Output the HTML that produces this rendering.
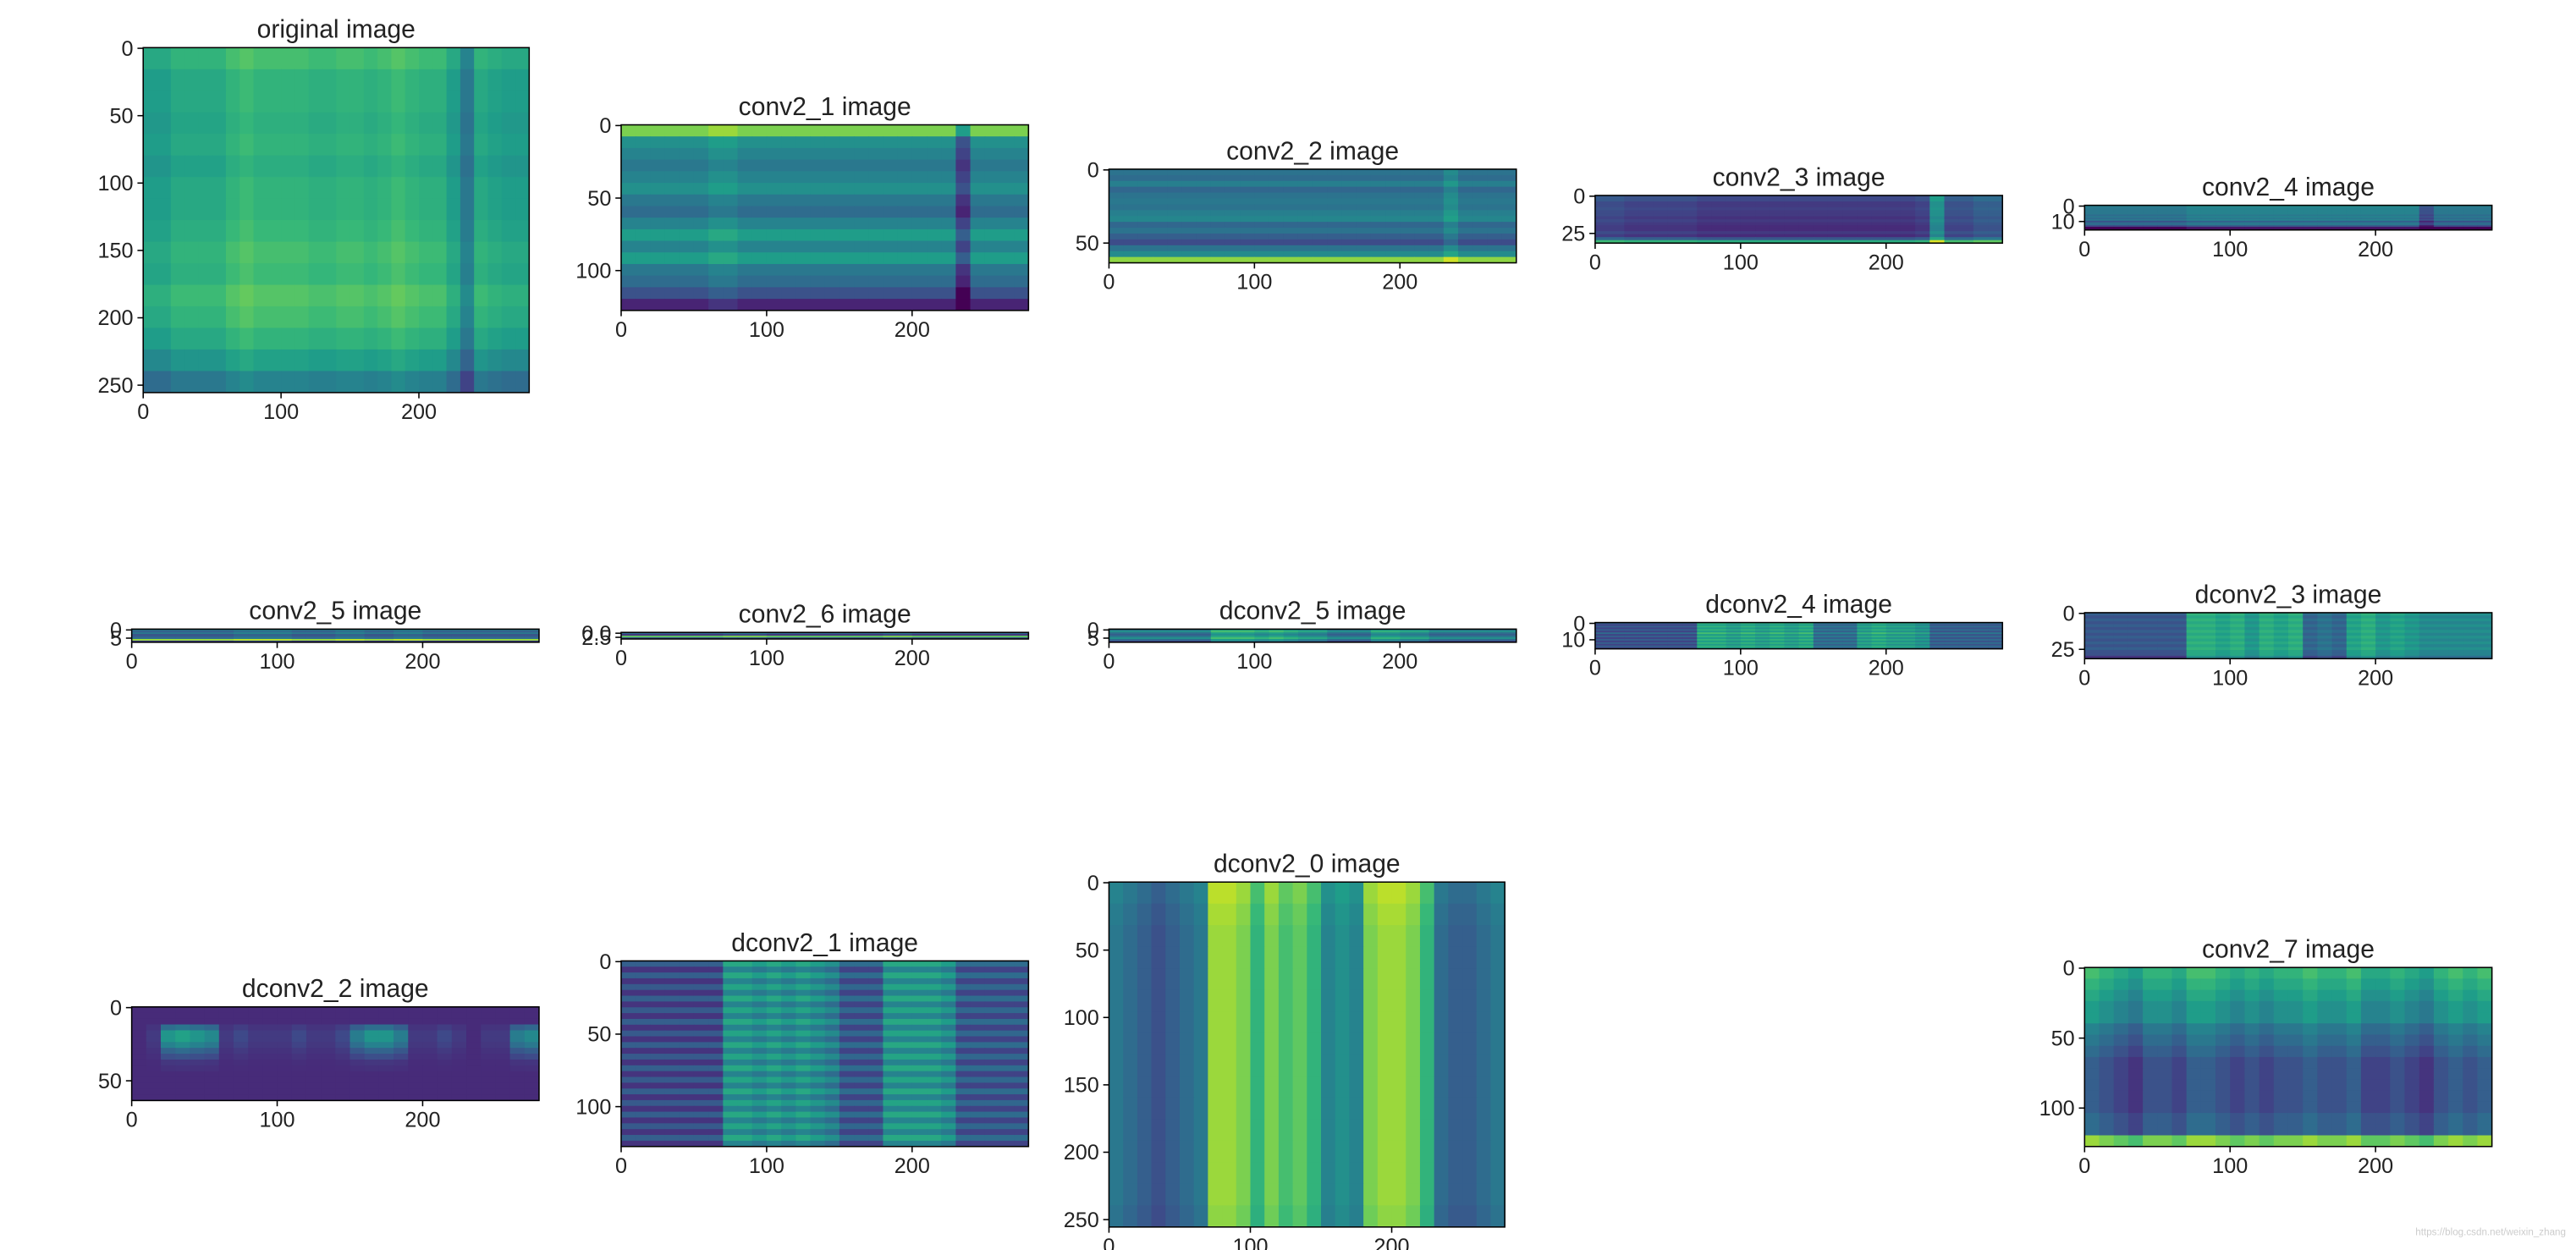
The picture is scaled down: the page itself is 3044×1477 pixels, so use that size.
<!DOCTYPE html>
<html><head><meta charset="utf-8"><style>
html,body{margin:0;padding:0;background:#fff;}
svg{display:block;}
text{font-family:"Liberation Sans","DejaVu Sans",sans-serif;fill:#222;}
</style></head>
<body>
<svg id="fig" width="3044" height="1477" viewBox="0 0 1568 761" xmlns="http://www.w3.org/2000/svg"></svg>
<script>
// ---- data arrays (row / column intensity profiles, 0..1 colormap units) ----
const xTicks = [0, 100, 200];
const origRows = [0.05,0,0,-0.02,0,-0.03,0,0,0.02,0.05,0.03,0.08,0.05,0,-0.08,-0.2];
const origCols = [-0.05,-0.05,0,0,0,0,0.05,0.08,0.05,0.05,0.05,0.05,0.03,0.03,0.05,0.05,0.03,0.05,0.08,0.05,0.03,0.03,-0.05,-0.2,0,-0.03,-0.05,-0.05];
const c1Rows = [0.35,0.05,0,-0.05,0,0.05,-0.05,-0.1,0,0.1,0,0.1,-0.05,-0.1,-0.2,-0.35];
const c1Cols = [0,0,0,0,0,0,0.05,0.05,0,0,0,0,0,0,0,0,0,0,0,0,0,0,0,-0.25,0,0,0,0];
const c2Rows = [0,-0.03,0.05,-0.05,0,0.02,0,0.05,0.08,-0.05,0,-0.08,-0.15,0,0.1,0.45];
const c2Cols = [0,0,0,0,0,0,0,0,0,0,0,0,0,0,0,0,0,0,0,0,0,0,0,0.1,0,0,0,0];
const c3Rows = [0.05,0.05,0,0,0.02,0,0,-0.03,0,-0.03,-0.05,-0.05,0,-0.05,0.1,0.45];
const c3Cols = [0.03,0.03,0,0,0,0,0,-0.03,-0.03,-0.03,-0.03,-0.03,-0.03,-0.03,-0.03,-0.03,-0.03,-0.03,-0.03,-0.03,-0.03,-0.03,0,0.3,0.05,0.05,0.1,0.1];
const c4Rows = [0.1,0.05,0.05,0.05,0.05,0.05,0,0.05,0,0.05,-0.1,0,0,-0.15,-0.35,-0.35];
const c4Cols = [0,0,0,0,0,0,0,0.05,0.05,0.05,0.05,0.05,0.05,0.05,0.05,0.05,0.05,0.05,0.05,0.05,0.05,0.05,0.05,-0.15,0,0,0,0];
const c5Rows = [0.1,0,0.1,-0.05,0,0.05,0.55,-0.1];
const c5Cols = [0,0,0,0,0,0,0,0.05,0.05,0.05,0.05,0,0,0,0.05,0.05,0,0,0.05,0.05,0,0,0,0,0,0,0,0];
const c6Rows = [0.1,-0.1,0.5,0];
const c6Cols = [0,0,0,0,0,0,0,0.05,0.05,0.05,0,0,0,0,0,0,0,0,0.05,0.05,0,0,0,0,0,0,0,0];
const d5Rows = [0.1,0.2,0.05,0,0.1,0.2,0.05,-0.1];
const d5Cols = [0,0,0,0,0,0,0,0.2,0.2,0.2,0.15,0.2,0.15,0.1,0.1,0,0,0,0.15,0.15,0.1,0.1,0,0,0,0,0,0];
const d4Rows = [0.1,0,0.1,0,0.1,0,0.15,0,0.1,0,0.1,0,0.1,0,0.1,0];
const d4Cols = [0,0,0,0,0,0,0,0.35,0.35,0.3,0.35,0.3,0.35,0.3,0.35,0.1,0.1,0.1,0.3,0.35,0.3,0.3,0.25,0.05,0.05,0.05,0.05,0.05];
const d3Rows = [0.05,0,0.05,0,0.05,0,0.05,0,0.05,0,0.05,0,0.05,0,0,-0.1];
const d3Cols = [0.05,0.05,0.05,0.05,0.05,0.05,0.05,0.4,0.4,0.35,0.4,0.3,0.4,0.35,0.4,0.1,0.15,0.1,0.35,0.4,0.3,0.35,0.3,0.25,0.25,0.25,0.25,0.25];
const d2Rows = [0,0,0,0.6,1,1,0.8,0.5,0.3,0.1,0.05,0,0,0,0,0];
const d2Cols = [0,0.05,0.4,0.45,0.4,0.35,0.05,0.1,0.05,0.05,0.05,0.1,0.05,0.05,0.1,0.3,0.4,0.4,0.3,0.05,0.05,0.1,0.05,0,0.05,0.05,0.3,0.35];
const d1Rows = [0.1,-0.05,0.1,-0.05,0.08,-0.05,0.1,-0.05,0.08,-0.05,0.1,-0.05,0.08,-0.05,0.1,-0.05,0.08,-0.05,0.1,-0.05,0.08,-0.05,0.1,-0.05,0.08,-0.05,0.1,-0.05,0.08,-0.05,0.1,-0.05];
const d1Cols = [0,0,0,0,0,0,0,0.3,0.3,0.25,0.3,0.25,0.3,0.25,0.2,0.05,0.05,0.05,0.3,0.3,0.3,0.3,0.25,0.05,0.05,0.05,0.05,0.05];
const d0Rows = [0.05,0.02,0,0,0,0,0,0,0,0,0,0,0,0,0,-0.02];
const d0Cols = [0.05,0,-0.05,-0.1,-0.05,0,0.05,0.5,0.5,0.45,0.3,0.45,0.35,0.4,0.3,0.1,0.15,0.1,0.45,0.5,0.5,0.45,0.3,0,-0.05,-0.05,0,0.05];
const c7Rows = [0.3,0.25,0.2,0.15,0.15,0.05,0,-0.05,-0.1,-0.1,-0.1,-0.1,-0.1,-0.05,-0.05,0.45];
const c7Cols = [0.1,0.05,0,-0.05,0.05,0.05,0,0.1,0.1,0.05,0,0.05,0,0.05,0.05,0.1,0.05,0.05,0.1,0,0,0.05,0,-0.05,0.05,0.1,0.05,0.1];

// ---- layout (thumbnail coordinate units) ----
const panels = [
 {name:'original-image',title:'original image',x:87,y:29,w:235,h:210,n:256,base:0.6,rows:origRows,cols:origCols,mode:'add',yt:[0,50,100,150,200,250]},
 {name:'conv2-1',title:'conv2_1 image',x:378,y:76,w:248,h:113,n:128,base:0.45,rows:c1Rows,cols:c1Cols,mode:'add',yt:[0,50,100]},
 {name:'conv2-2',title:'conv2_2 image',x:675,y:103,w:248,h:57,n:64,base:0.38,rows:c2Rows,cols:c2Cols,mode:'add',yt:[0,50]},
 {name:'conv2-3',title:'conv2_3 image',x:971,y:119,w:248,h:29,n:32,base:0.2,rows:c3Rows,cols:c3Cols,mode:'add',yt:[0,25]},
 {name:'conv2-4',title:'conv2_4 image',x:1269,y:125,w:248,h:15,n:16,base:0.35,rows:c4Rows,cols:c4Cols,mode:'add',yt:[0,10]},
 {name:'conv2-5',title:'conv2_5 image',x:80,y:383,w:248,h:8,n:8,base:0.3,rows:c5Rows,cols:c5Cols,mode:'add',yt:[0,5]},
 {name:'conv2-6',title:'conv2_6 image',x:378,y:385,w:248,h:4,n:4,base:0.25,rows:c6Rows,cols:c6Cols,mode:'add',yt:[0,2.5],ytl:['0.0','2.5']},
 {name:'dconv2-5',title:'dconv2_5 image',x:675,y:383,w:248,h:8,n:8,base:0.3,rows:d5Rows,cols:d5Cols,mode:'add',yt:[0,5]},
 {name:'dconv2-4',title:'dconv2_4 image',x:971,y:379,w:248,h:16,n:16,base:0.2,rows:d4Rows,cols:d4Cols,mode:'add',yt:[0,10]},
 {name:'dconv2-3',title:'dconv2_3 image',x:1269,y:373,w:248,h:28,n:32,base:0.2,rows:d3Rows,cols:d3Cols,mode:'add',yt:[0,25]},
 {name:'dconv2-2',title:'dconv2_2 image',x:80,y:613,w:248,h:57,n:64,base:0.12,rows:d2Rows,cols:d2Cols,mode:'mul',yt:[0,50]},
 {name:'dconv2-1',title:'dconv2_1 image',x:378,y:585,w:248,h:113,n:128,base:0.2,rows:d1Rows,cols:d1Cols,mode:'add',yt:[0,50,100]},
 {name:'dconv2-0',title:'dconv2_0 image',x:675,y:537,w:241,h:210,n:256,base:0.35,rows:d0Rows,cols:d0Cols,mode:'add',yt:[0,50,100,150,200,250]},
 {name:'conv2-7',title:'conv2_7 image',x:1269,y:589,w:248,h:109,n:128,base:0.3,rows:c7Rows,cols:c7Cols,mode:'add',yt:[0,50,100]}
];

const VIR = [[68,1,84],[72,40,120],[62,74,137],[49,104,142],[38,130,142],[31,158,137],[53,183,121],[109,205,89],[180,222,44],[253,231,37]];
function viridis(v){
  v = Math.max(0, Math.min(1, v));
  const p = v*(VIR.length-1), i = Math.min(VIR.length-2, Math.floor(p)), f = p-i;
  const a = VIR[i], b = VIR[i+1];
  return 'rgb('+a.map((c,k)=>Math.round(c+(b[k]-c)*f)).join(',')+')';
}
const NS = 'http://www.w3.org/2000/svg';
const svg = document.getElementById('fig');
function mk(tag, attrs, parent){
  const e = document.createElementNS(NS, tag);
  for (const k in attrs) e.setAttribute(k, attrs[k]);
  (parent||svg).appendChild(e);
  return e;
}
panels.forEach(p => {
  const g = mk('g', {});
  
  
  const xs = v => p.x + v/280*p.w;
  const ys = v => p.y + (v+0.5)/p.n*p.h;
  const R = p.rows.length, C = p.cols.length;
  const cw = p.w/C, rh = p.h/R;
  for (let i=0;i<R;i++) for (let j=0;j<C;j++){
    const v = p.mode==='mul' ? p.base + p.rows[i]*p.cols[j] : p.base + p.rows[i] + p.cols[j];
    const r = mk('rect', {x:(p.x+j*cw).toFixed(2), y:(p.y+i*rh).toFixed(2), width:(cw+0.3).toFixed(2), height:(rh+0.3).toFixed(2), fill:viridis(v)}, g);
    
    
  }
  const fr = mk('rect', {x:p.x, y:p.y, width:p.w, height:p.h, fill:'none', stroke:'#000', 'stroke-width':0.8}, g);
  
  
  const t = mk('text', {x:p.x+p.w/2, y:p.y-6, 'text-anchor':'middle', 'font-size':15.5}, g);
  t.textContent = p.title;
  
  
  xTicks.forEach(v => {
    const x = xs(v);
    mk('line', {x1:x, x2:x, y1:p.y+p.h, y2:p.y+p.h+3.5, stroke:'#000', 'stroke-width':0.8}, g);
    const tl = mk('text', {x:x, y:p.y+p.h+16, 'text-anchor':'middle', 'font-size':13}, g);
    tl.textContent = v;
    
    
  });
  p.yt.forEach((v, k) => {
    const y = ys(v);
    mk('line', {x1:p.x-3.5, x2:p.x, y1:y, y2:y, stroke:'#000', 'stroke-width':0.8}, g);
    const tl = mk('text', {x:p.x-6, y:y+4.5, 'text-anchor':'end', 'font-size':13}, g);
    tl.textContent = p.ytl ? p.ytl[k] : v;
    
    
  });
});
const wm = mk('text', {x:1562, y:752, 'text-anchor':'end', 'font-size':6, style:'fill:#ccc'});
wm.textContent = 'https://blog.csdn.net/weixin_zhang';


</script>
</body></html>
